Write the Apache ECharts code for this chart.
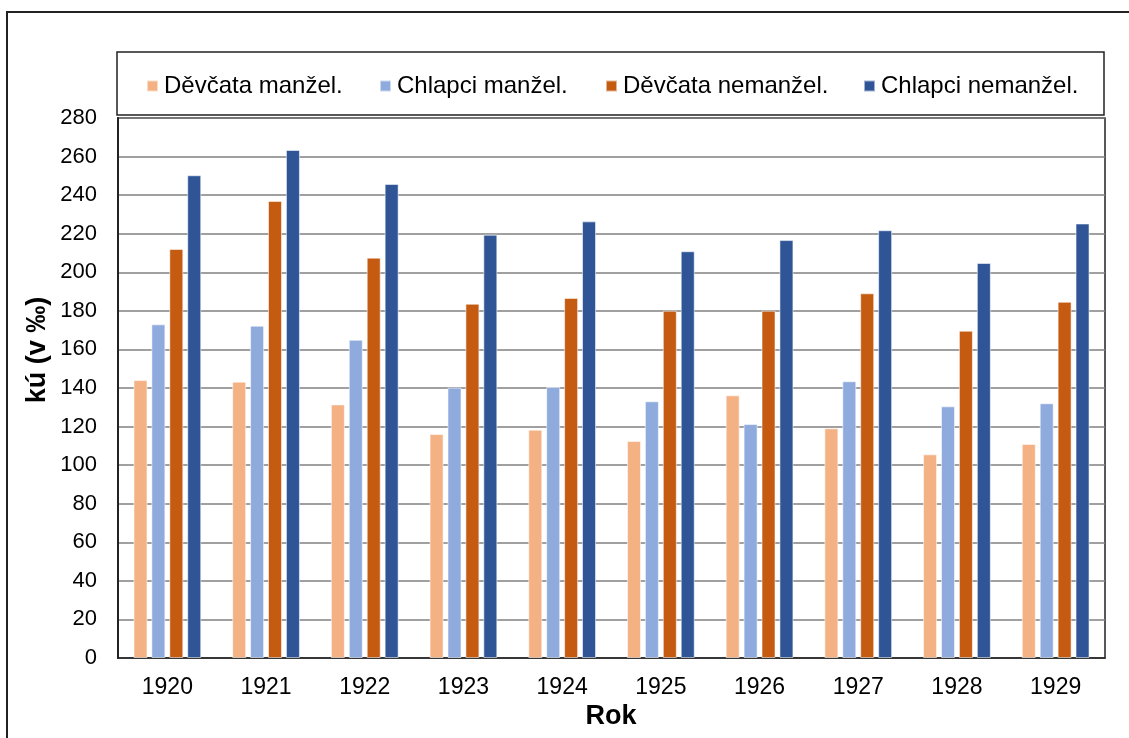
<!DOCTYPE html>
<html>
<head>
<meta charset="utf-8">
<script src="https://cdn.jsdelivr.net/npm/echarts@6/dist/echarts.min.js"></script>
<style>
html,body{margin:0;padding:0;background:#fff;}
#chart{width:1129px;height:738px;}
</style>
</head>
<body>
<div id="chart"></div>
<script>
const years = ['1920','1921','1922','1923','1924','1925','1926','1927','1928','1929'];
const seriesNames = ['Děvčata manžel.','Chlapci manžel.','Děvčata nemanžel.','Chlapci nemanžel.'];
const girlsMarital = [144.1,143.3,131.5,116.1,118.4,112.5,136.2,119.1,105.6,111.0];
const boysMarital = [173.0,172.3,165.0,140.2,140.5,133.1,121.3,143.5,130.5,132.1];
const girlsNonMarital = [212.1,237.0,207.6,183.7,186.7,180.1,180.1,189.1,169.7,184.7];
const boysNonMarital = [250.3,263.4,245.8,219.5,226.4,210.9,216.7,221.8,204.8,225.3];
const yTicks = {min:0, max:280, interval:20};
const yTitle = 'kú (v ‰)';
const xTitle = 'Rok';

const colors = ['#F4B183','#8FAADC','#C55A11','#2F5597'];
const dataSets = [girlsMarital, boysMarital, girlsNonMarital, boysNonMarital];
const FONT = '"Liberation Sans", Arial, sans-serif';

const chart = echarts.init(document.getElementById('chart'), null, {renderer:'canvas'});
const legendLefts = [146, 379, 605, 863];

const option = {
  animation:false,
  backgroundColor:'#fff',
  color: colors,
  grid:{left:118, right:24, top:118, bottom:80, show:true, borderColor:'#222', borderWidth:1.5, containLabel:false},
  legend: seriesNames.map((n,i)=>({
    data:[n], left:legendLefts[i], top:74, padding:0,
    itemWidth:11, itemHeight:11, itemGap:0, icon:'rect',
    textStyle:{fontFamily:FONT, fontSize:24, color:'#000', padding:[0,0,0,1]}
  })),
  xAxis:{
    type:'category', data:years,
    axisLine:{show:true, lineStyle:{color:'#222', width:1.5}},
    axisTick:{show:false},
    axisLabel:{fontFamily:FONT, fontSize:23, color:'#000', margin:18}
  },
  yAxis:{
    type:'value', min:yTicks.min, max:yTicks.max, interval:yTicks.interval,
    axisLine:{show:true, lineStyle:{color:'#222', width:2}},
    axisTick:{show:false},
    axisLabel:{fontFamily:FONT, fontSize:22, color:'#000', margin:21},
    splitLine:{show:true, lineStyle:{color:'#808080', width:1.5}}
  },
  series: dataSets.map((d,i)=>({
    name:seriesNames[i], type:'bar', data:d,
    barWidth:14, barGap:'28%',
    itemStyle:{color:colors[i], borderColor:'rgba(255,255,255,0.55)', borderWidth:1}
  })),
  graphic:[
    {type:'rect', silent:true, z:-1, shape:{x:7, y:12, width:1200, height:800},
     style:{fill:'none', stroke:'#222', lineWidth:2}},
    {type:'rect', silent:true, z:-1, shape:{x:117, y:52, width:987, height:63},
     style:{fill:'none', stroke:'#222', lineWidth:1.5}},
    {type:'text', x:38, y:350, rotation:Math.PI/2,
     style:{text:yTitle, font:'bold 27px "Liberation Sans", Arial, sans-serif', fill:'#000', align:'center', verticalAlign:'middle'}},
    {type:'text', x:611, y:717,
     style:{text:xTitle, font:'bold 27px "Liberation Sans", Arial, sans-serif', fill:'#000', align:'center', verticalAlign:'middle'}}
  ]
};
chart.setOption(option);
</script>
</body>
</html>
